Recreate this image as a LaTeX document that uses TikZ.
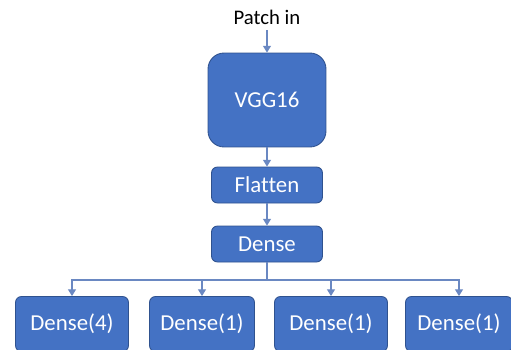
\documentclass[tikz,border=0pt]{standalone}
\usepackage{fontspec}
\setmainfont{Carlito}[Ligatures=NoCommon]
\usetikzlibrary{arrows.meta}
\definecolor{layerfill}{HTML}{4472C4}
\definecolor{layerdraw}{HTML}{2F528F}
\definecolor{linkcol}{HTML}{6A88C2}
\begin{document}
\begin{tikzpicture}[x=0.02cm,y=-0.02cm,
        layer/.style={draw=layerdraw,line width=0.5pt,fill=layerfill,text=white,
            rounded corners=0.12cm,font=\fontsize{13}{14}\selectfont,inner sep=0pt},
        link/.style={draw=linkcol,line width=0.6pt,-{Triangle[width=4.5pt,length=3.8pt]}}]
        \useasboundingbox (0,0) rectangle (511,349);

        % Input and backbone
        \node (patch) at (267,17) {\fontsize{11.8}{13}\selectfont Patch in};
        \node[layer,rounded corners=0.32cm,minimum width=2.36cm,minimum height=1.88cm] (vgg) at (267,100) {VGG16};

        % Shared layers
        \node[layer,minimum width=2.22cm,minimum height=0.72cm] (flatten) at (267,185) {Flatten};
        \node[layer,minimum width=2.22cm,minimum height=0.72cm] (dense) at (267,244) {Dense};

        % Output heads
        \node[layer,minimum width=2.26cm,minimum height=1.1cm] (head1) at (72,324) {Dense(4)};
        \node[layer,minimum width=2.1cm,minimum height=1.1cm] (head2) at (202,324) {Dense(1)};
        \node[layer,minimum width=2.26cm,minimum height=1.1cm] (head3) at (331,324) {Dense(1)};
        \node[layer,minimum width=2.14cm,minimum height=1.1cm] (head4) at (459,324) {Dense(1)};

        % Connections
        \draw[link] (patch) -- (vgg);
        \draw[link] (vgg) -- (flatten);
        \draw[link] (flatten) -- (dense);
        \coordinate (split) at (267,280);
        \draw[draw=linkcol,line width=0.6pt] (dense.south) -- (split);
        \foreach \h in {head1,head2,head3,head4}
            \draw[link] (split) -| (\h.north);
    \end{tikzpicture}
\end{document}
